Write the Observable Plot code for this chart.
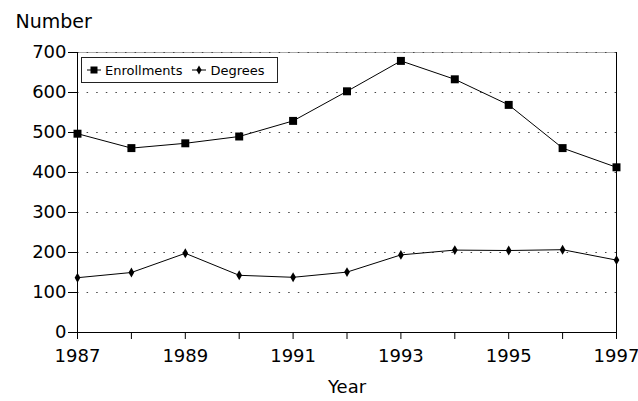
<!DOCTYPE html>
<html><head><meta charset="utf-8">
<script src="https://cdn.jsdelivr.net/npm/d3@7"></script>
<script src="https://cdn.jsdelivr.net/npm/@observablehq/plot@0.6"></script>
<style>
body{margin:0;background:#fff;}
#wrap{position:relative;width:638px;height:401px;}
.legend{position:absolute;left:81px;top:57px;border:1px solid #222;background:#fff;font:13px "DejaVu Sans",sans-serif;display:flex;align-items:center;padding:0 4px 0 4px;box-sizing:border-box;width:197px;height:26px;}
.legend .item{display:flex;align-items:center;margin-right:9px;}
.legend .item:last-child{margin-right:0;}
.legend svg{margin-right:3px;}
</style></head>
<body><div id="wrap"></div>
<script>
const years = [1987, 1988, 1989, 1990, 1991, 1992, 1993, 1994, 1995, 1996, 1997];
const enrollments = [497, 461, 473, 490, 529, 603, 679, 633, 569, 461, 413];
const degrees = [137, 150, 198, 143, 138, 151, 194, 206, 205, 207, 181];
const yTicks = [0, 100, 200, 300, 400, 500, 600, 700];
const xLabels = [1987, 1989, 1991, 1993, 1995, 1997];
const seriesNames = ["Enrollments", "Degrees"];
const seriesSymbols = ["square", "diamond"];

const rows = [];
years.forEach((y, i) => {
  rows.push({year: y, value: enrollments[i], series: seriesNames[0]});
  rows.push({year: y, value: degrees[i], series: seriesNames[1]});
});

const chart = Plot.plot({
  width: 638,
  height: 401,
  marginTop: 52,
  marginLeft: 77,
  marginRight: 22,
  marginBottom: 69,
  style: {fontFamily: "'DejaVu Sans', sans-serif", color: "black", background: "white"},
  x: {domain: [1987, 1997]},
  y: {domain: [0, 700]},
  marks: [
    Plot.ruleY([700], {stroke: "#aaa"}),
    Plot.gridY(yTicks.filter(d => d > 0), {stroke: "#444", strokeOpacity: 1, strokeDasharray: "1.5,8.1"}),
    Plot.axisY({ticks: yTicks, tickSize: 9, tickPadding: 2, label: null, fontSize: 18, tickFormat: d => String(d)}),
    Plot.axisX({ticks: years, tickSize: 7, tickPadding: 10, label: null, fontSize: 18,
      tickFormat: d => xLabels.includes(d) ? String(d) : ""}),
    Plot.ruleX([1987, 1997], {stroke: "black"}),
    Plot.ruleY([0], {stroke: "black"}),
    Plot.line(rows, {x: "year", y: "value", z: "series", stroke: "black", strokeWidth: 1}),
    Plot.dot(rows.filter(d => d.series === seriesNames[0]), {x: "year", y: "value", symbol: "square", r: 4.5, fill: "black", stroke: "none"}),
    Plot.dot(rows.filter(d => d.series === seriesNames[1]), {x: "year", y: "value", symbol: "diamond", r: 3, fill: "black", stroke: "none"}),
    Plot.text(["Number"], {frameAnchor: "top-left", dx: -62, dy: -31, textAnchor: "start", lineAnchor: "middle", fontSize: 19}),
    Plot.text(["Year"], {frameAnchor: "bottom", dy: 55, lineAnchor: "middle", fontSize: 18})
  ]
});

const wrap = document.getElementById("wrap");
wrap.appendChild(chart);

const legend = document.createElement("div");
legend.className = "legend";
seriesNames.forEach((name, i) => {
  const item = document.createElement("div");
  item.className = "item";
  const sym = d3.create("svg").attr("width", 16).attr("height", 12);
  sym.append("line").attr("x1", 1).attr("x2", 15).attr("y1", 6).attr("y2", 6).attr("stroke", "black");
  const path = d3.symbol(seriesSymbols[i] === "square" ? d3.symbolSquare : d3.symbolDiamond, seriesSymbols[i] === "square" ? 49 : 24)();
  sym.append("path").attr("d", path).attr("transform", "translate(8,6)").attr("fill", "black");
  item.appendChild(sym.node());
  const t = document.createElement("span");
  t.textContent = name;
  item.appendChild(t);
  legend.appendChild(item);
});
wrap.appendChild(legend);
</script>
</body></html>
